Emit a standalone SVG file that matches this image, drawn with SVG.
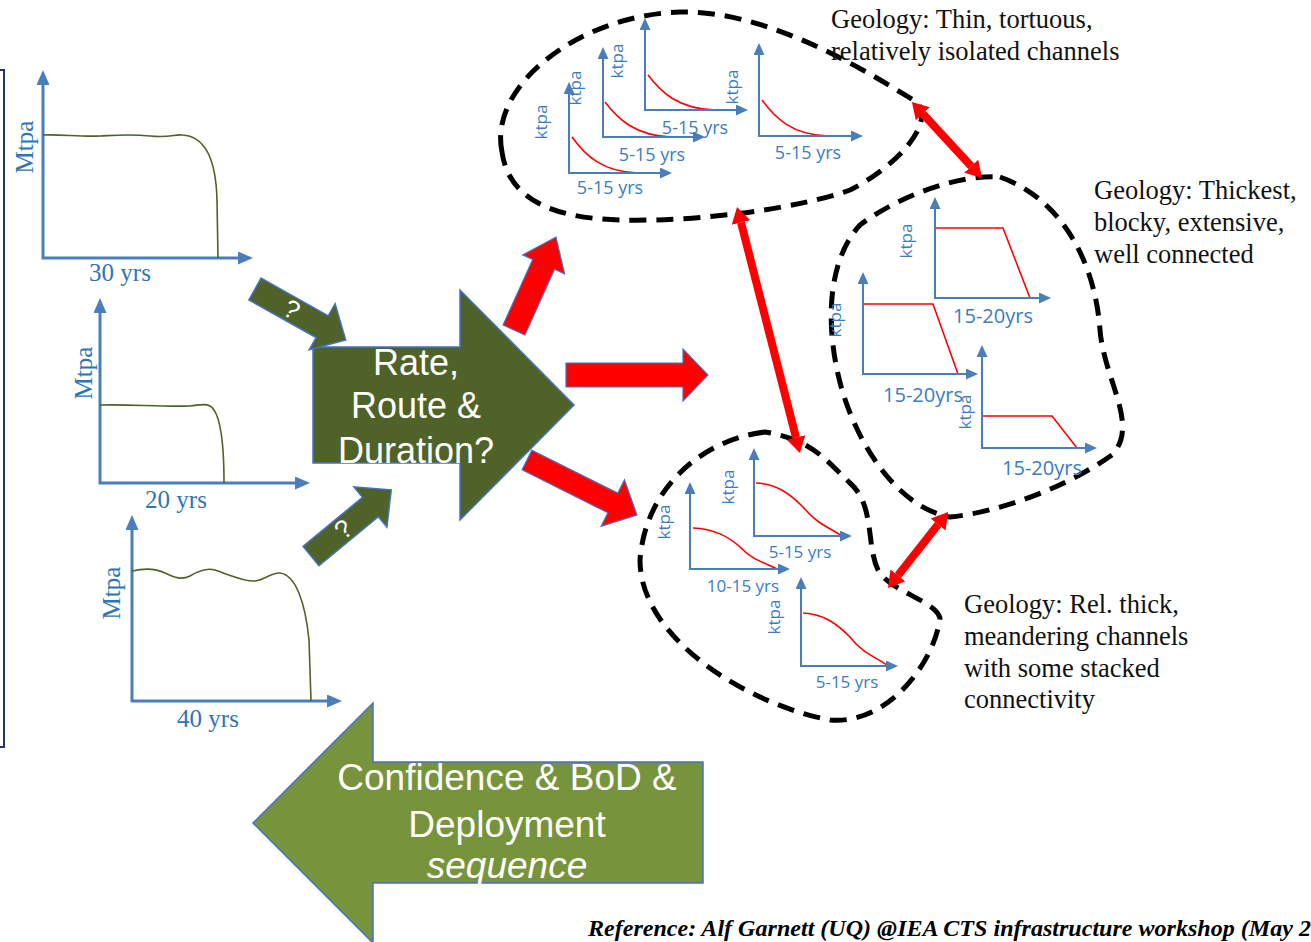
<svg xmlns="http://www.w3.org/2000/svg" width="1311" height="942" viewBox="0 0 1311 942">
<defs>
<style>
.ax{fill:none;stroke:#4A7EBB;stroke-width:3}
.axs{fill:none;stroke:#4A7EBB;stroke-width:2}
.gc{fill:none;stroke:#4F6228;stroke-width:1.6}
.rc{fill:none;stroke:#FF0000;stroke-width:1.6}
.bl{font-family:"Liberation Serif","Times New Roman",serif;font-size:25px;fill:#2E75B6}
.kt{font-family:"Open Sans","Liberation Sans",sans-serif;font-size:17px;fill:#3A7CC2}
.yr{font-family:"Open Sans","Liberation Sans",sans-serif;font-size:18px;fill:#3A7CC2;text-anchor:middle}
.yr.w{font-size:20px}
.yr.n{font-size:17px}
.geo{font-family:"Liberation Serif","Times New Roman",serif;font-size:26.5px;fill:#111}
.cl{fill:none;stroke:#000;stroke-width:5;stroke-dasharray:17 10}
.big{font-family:"Liberation Sans",Arial,sans-serif;font-size:36px;fill:#fff;text-anchor:middle}
.big.l{font-size:37px}
.q{font-family:"Liberation Sans",Arial,sans-serif;font-size:26px;fill:#fff;text-anchor:middle}
.ra{fill:#FF0000;stroke:#4472C4;stroke-width:1.2}
.oa{fill:#4F6228;stroke:#4472C4;stroke-width:1.5}
.dr{stroke:#FF0000;stroke-width:8;fill:none}
</style>
<marker id="axB" markerUnits="userSpaceOnUse" markerWidth="15" markerHeight="13" refX="0" refY="6.5" orient="auto-start-reverse"><path d="M0,0 L15,6.5 L0,13 Z" fill="#4A7EBB"/></marker>
<marker id="axS" markerUnits="userSpaceOnUse" markerWidth="12" markerHeight="11" refX="0" refY="5.5" orient="auto-start-reverse"><path d="M0,0 L12,5.5 L0,11 Z" fill="#4A7EBB"/></marker>
<marker id="rh" markerUnits="userSpaceOnUse" markerWidth="16" markerHeight="19" refX="0" refY="9.5" orient="auto-start-reverse"><path d="M0,0 L16,9.5 L0,19 Z" fill="#FF0000"/></marker>
</defs>
<rect width="1311" height="942" fill="#fff"/>

<g id="frame"><rect x="-10" y="70" width="14" height="677" fill="none" stroke="#203864" stroke-width="2"/></g>

<g id="chart-30">
<path class="ax" d="M43,85 L43,258 L238,258" marker-start="url(#axB)" marker-end="url(#axB)"/>
<path class="gc" d="M43,135 C60,134 80,137 100,136 S130,134 150,136 S175,134 182,135 C205,136 216,160 217,200 L218,258"/>
<text class="bl" transform="translate(33,147) rotate(-90)" text-anchor="middle">Mtpa</text>
<text class="bl" x="120" y="281" text-anchor="middle">30 yrs</text>
</g>
<g id="chart-20">
<path class="ax" d="M100,313 L100,483 L295,483" marker-start="url(#axB)" marker-end="url(#axB)"/>
<path class="gc" d="M100,405 C130,404 160,407 190,406 C200,405 205,403 210,406 C220,412 224,440 224,483"/>
<text class="bl" transform="translate(92,373) rotate(-90)" text-anchor="middle">Mtpa</text>
<text class="bl" x="176" y="508" text-anchor="middle">20 yrs</text>
</g>
<g id="chart-40">
<path class="ax" d="M132,530 L132,701 L327,701" marker-start="url(#axB)" marker-end="url(#axB)"/>
<path class="gc" d="M132,571 C145,568 155,568 165,573 C175,578 182,580 190,576 C200,570 208,568 215,570 C230,575 245,582 255,581 C265,580 272,572 280,573 C295,575 305,600 309,640 L311,701"/>
<text class="bl" transform="translate(120,593) rotate(-90)" text-anchor="middle">Mtpa</text>
<text class="bl" x="208" y="727" text-anchor="middle">40 yrs</text>
</g>

<g id="rate-route-duration">
<polygon class="oa" points="313,347 460,347 460,290 574,405 460,520 460,463 313,463"/>
<text class="big" x="416" y="375">Rate,</text>
<text class="big" x="416" y="418">Route &amp;</text>
<text class="big" x="416" y="463">Duration?</text>
</g>

<g id="confidence-bod">
<polygon points="703,762 373,762 373,703 253,823 373,943 373,883 703,883" fill="#77933C" stroke="#4472C4" stroke-width="1.5"/>
<text class="big l" x="507" y="790">Confidence &amp; BoD &amp;</text>
<text class="big l" x="507" y="837">Deployment</text>
<text class="big l" x="507" y="878" font-style="italic">sequence</text>
</g>

<g id="cluster-thin">
<path class="cl" d="M502,152 C488,85 580,15 680,12 C760,10 850,60 918,103 C935,128 890,170 850,190 C800,208 700,222 620,220 C545,218 508,195 502,152 Z"/>
<g id="t1"><path class="rc" d="M572,137 C585,155 602,172 638,173"/><path class="axs" d="M569,94 L569,173 L660,173" marker-start="url(#axS)" marker-end="url(#axS)"/>
<text class="kt" transform="translate(547,122) rotate(-90)" text-anchor="middle">ktpa</text><text class="yr" x="610" y="194">5-15 yrs</text></g>
<g id="t2"><path class="rc" d="M605,102 C618,119 635,136 672,137"/><path class="axs" d="M603,59 L603,137 L693,137" marker-start="url(#axS)" marker-end="url(#axS)"/>
<text class="kt" transform="translate(581,88) rotate(-90)" text-anchor="middle">ktpa</text><text class="yr" x="652" y="161">5-15 yrs</text></g>
<g id="t3"><path class="rc" d="M648,75 C661,92 678,109 715,110"/><path class="axs" d="M645,30 L645,110 L736,110" marker-start="url(#axS)" marker-end="url(#axS)"/>
<text class="kt" transform="translate(623,61) rotate(-90)" text-anchor="middle">ktpa</text><text class="yr" x="695" y="134">5-15 yrs</text></g>
<g id="t4"><path class="rc" d="M762,100 C775,118 792,135 828,136"/><path class="axs" d="M759,55 L759,136 L851,136" marker-start="url(#axS)" marker-end="url(#axS)"/>
<text class="kt" transform="translate(738,87) rotate(-90)" text-anchor="middle">ktpa</text><text class="yr" x="808" y="159">5-15 yrs</text></g>
<text class="geo" x="831" y="28">Geology: Thin, tortuous,</text>
<text class="geo" x="831" y="60">relatively isolated channels</text>
</g>

<g id="cluster-thickest">
<path class="cl" d="M1000,177 C1060,198 1095,260 1100,330 C1104,380 1140,425 1112,455 C1065,488 1000,512 950,517 C900,508 860,450 842,390 C825,330 826,262 860,225 C900,195 960,174 1000,177 Z"/>
<g id="r1"><path class="rc" d="M935,228 L1003,228 L1030,298"/><path class="axs" d="M935,209 L935,298 L1039,298" marker-start="url(#axS)" marker-end="url(#axS)"/>
<text class="kt" transform="translate(912,241) rotate(-90)" text-anchor="middle">ktpa</text><text class="yr w" x="993" y="323">15-20yrs</text></g>
<g id="r2"><path class="rc" d="M863,304 L933,304 L958,374"/><path class="axs" d="M863,284 L863,374 L966,374" marker-start="url(#axS)" marker-end="url(#axS)"/>
<text class="kt" transform="translate(841,320) rotate(-90)" text-anchor="middle">ktpa</text><text class="yr w" x="923" y="402">15-20yrs</text></g>
<g id="r3"><path class="rc" d="M982,416 L1052,416 L1077,448"/><path class="axs" d="M982,357 L982,448 L1085,448" marker-start="url(#axS)" marker-end="url(#axS)"/>
<text class="kt" transform="translate(971,412) rotate(-90)" text-anchor="middle">ktpa</text><text class="yr w" x="1042" y="475">15-20yrs</text></g>
<text class="geo" x="1094" y="199">Geology: Thickest,</text>
<text class="geo" x="1094" y="231">blocky, extensive,</text>
<text class="geo" x="1094" y="263">well connected</text>
</g>

<g id="cluster-meandering">
<path class="cl" d="M765,432 C700,440 645,490 640,560 C640,640 750,705 830,720 C890,725 935,660 940,618 C935,600 890,592 878,570 C866,545 875,505 850,483 C830,465 815,440 765,432 Z"/>
<g id="b1"><path class="rc" d="M693,528 C714,529 727,536 739,546 C753,561 764,562 777,569"/><path class="axs" d="M690,494 L690,569 L778,569" marker-start="url(#axS)" marker-end="url(#axS)"/>
<text class="kt" transform="translate(670,522) rotate(-90)" text-anchor="middle">ktpa</text><text class="yr n" x="743" y="592">10-15 yrs</text></g>
<g id="b2"><path class="rc" d="M756,483 C777,484 790,494 803,507 C818,525 829,527 842,536"/><path class="axs" d="M754,460 L754,536 L840,536" marker-start="url(#axS)" marker-end="url(#axS)"/>
<text class="kt" transform="translate(734,487) rotate(-90)" text-anchor="middle">ktpa</text><text class="yr n" x="800" y="558">5-15 yrs</text></g>
<g id="b3"><path class="rc" d="M803,613 C824,614 837,624 850,637 C864,655 875,656 888,666"/><path class="axs" d="M801,589 L801,666 L886,666" marker-start="url(#axS)" marker-end="url(#axS)"/>
<text class="kt" transform="translate(780,617) rotate(-90)" text-anchor="middle">ktpa</text><text class="yr n" x="847" y="688">5-15 yrs</text></g>
<text class="geo" x="964" y="613">Geology: Rel. thick,</text>
<text class="geo" x="964" y="645">meandering channels</text>
<text class="geo" x="964" y="677">with some stacked</text>
<text class="geo" x="964" y="708">connectivity</text>
</g>

<g id="connectors">
<g transform="translate(255,289) rotate(29.3)"><polygon class="oa" points="0,-12.5 77,-12.5 77,-26.5 104,0 77,26.5 77,12.5 0,12.5"/><text class="q" x="42" y="9">?</text></g>
<g transform="translate(311,556) rotate(-39.5)"><polygon class="oa" points="0,-12.5 77,-12.5 77,-26 104,0 77,26 77,12.5 0,12.5"/><text class="q" x="42" y="9">?</text></g>
<polygon class="ra" transform="translate(514,330) rotate(-65.7)" points="0,-12 72,-12 72,-23 102,0 72,23 72,12 0,12"/>
<polygon class="ra" transform="translate(566,375)" points="0,-12 117,-12 117,-26 142,0 117,26 117,12 0,12"/>
<polygon class="ra" transform="translate(527,460) rotate(26.6)" points="0,-11 96,-11 96,-26 123,0 96,26 96,11 0,11"/>
<line class="dr" x1="922.8" y1="113.8" x2="971.2" y2="166.2" marker-start="url(#rh)" marker-end="url(#rh)"/>
<line class="dr" x1="741" y1="222.5" x2="796" y2="437.5" marker-start="url(#rh)" marker-end="url(#rh)"/>
<line class="dr" x1="938.1" y1="524.6" x2="897.9" y2="575.4" marker-start="url(#rh)" marker-end="url(#rh)"/>
</g>

<text id="reference" x="588" y="936" font-family="'Liberation Serif','Times New Roman',serif" font-size="23" font-weight="bold" font-style="italic" fill="#000" textLength="723" lengthAdjust="spacingAndGlyphs">Reference: Alf Garnett (UQ) @IEA CTS infrastructure workshop (May 2</text>
</svg>
